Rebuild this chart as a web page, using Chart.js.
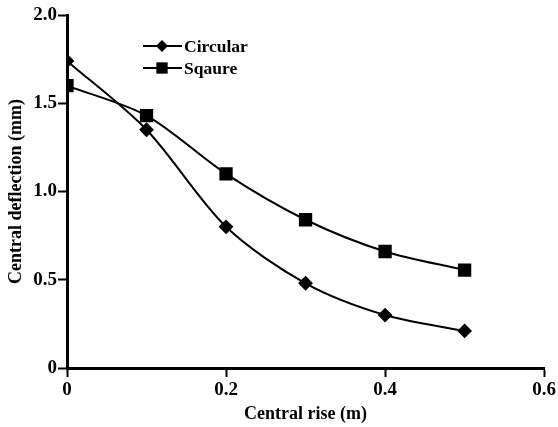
<!DOCTYPE html>
<html lang="en">
<head>
  <meta charset="utf-8" />
  <title>Central deflection vs central rise</title>
  <script src="https://cdn.jsdelivr.net/npm/chart.js"></script>
  <style>
    * { box-sizing: border-box; margin: 0; padding: 0; }
    body { background: #fff; }
    .chart-box { position: relative; width: 558px; height: 427px; }
  </style>
</head>
<body>
  <div class="chart-box"><canvas id="deflectionChart"></canvas></div>

  <script>
    const rise = [0, 0.1, 0.2, 0.3, 0.4, 0.5];
    const circular = [1.74, 1.35, 0.80, 0.48, 0.30, 0.21];
    const square = [1.60, 1.43, 1.10, 0.84, 0.66, 0.555];
    const seriesNames = ['Circular', 'Sqaure'];

    const serif = '"Liberation Serif", "Times New Roman", serif';

    // legend drawn as line + marker, like the original figure
    const lineLegend = {
      id: 'lineLegend',
      afterDraw(chart) {
        const ctx = chart.ctx;
        ctx.save();
        chart.data.datasets.forEach((ds, i) => {
          const y = 46 + i * 22;
          ctx.strokeStyle = '#000';
          ctx.lineWidth = 2;
          ctx.beginPath();
          ctx.moveTo(143, y);
          ctx.lineTo(182, y);
          ctx.stroke();
          ctx.fillStyle = '#000';
          Chart.helpers.drawPoint(ctx, { pointStyle: ds.pointStyle, radius: ds.pointRadius, borderWidth: 0 }, 162, y);
          ctx.font = 'bold 17.5px ' + serif;
          ctx.textBaseline = 'middle';
          ctx.textAlign = 'left';
          ctx.fillText(ds.label, 184, y + 1);
        });
        ctx.restore();
      }
    };

    const tickLabel = v => v === 0 ? '0' : v.toFixed(1);

    new Chart('deflectionChart', {
      type: 'line',
      data: {
        datasets: [
          {
            label: seriesNames[0],
            data: rise.map((x, i) => ({ x, y: circular[i] })),
            borderColor: '#000',
            backgroundColor: '#000',
            borderWidth: 2,
            pointStyle: 'rectRot',
            pointRadius: 6,
            tension: 0.3
          },
          {
            label: seriesNames[1],
            data: rise.map((x, i) => ({ x, y: square[i] })),
            borderColor: '#000',
            backgroundColor: '#000',
            borderWidth: 2,
            pointStyle: 'rect',
            pointRadius: 8,
            tension: 0.3
          }
        ]
      },
      options: {
        responsive: true,
        maintainAspectRatio: false,
        animation: false,
        layout: { padding: { left: 0, top: 15, right: 13, bottom: 0 } },
        plugins: { legend: { display: false }, tooltip: { enabled: false } },
        scales: {
          x: {
            type: 'linear',
            min: 0,
            max: 0.6,
            afterFit: s => { s.height = 59; },
            ticks: { stepSize: 0.2, callback: tickLabel, color: '#000', padding: 2, font: { family: serif, size: 19, weight: 'bold' } },
            grid: { drawOnChartArea: false, tickLength: 9, tickWidth: 2, color: '#000' },
            border: { color: '#000', width: 3 },
            title: { display: true, text: 'Central rise (m)', color: '#000', padding: { top: 4, bottom: 2 }, font: { family: serif, size: 18, weight: 'bold' } }
          },
          y: {
            min: 0,
            max: 2,
            afterFit: s => { s.width = 67; },
            ticks: { stepSize: 0.5, callback: tickLabel, color: '#000', padding: 1, font: { family: serif, size: 19, weight: 'bold' } },
            grid: { drawOnChartArea: false, tickLength: 9, tickWidth: 2, color: '#000' },
            border: { color: '#000', width: 3 },
            title: { display: true, text: 'Central deflection (mm)', color: '#000', padding: { top: 6, bottom: 0 }, font: { family: serif, size: 18, weight: 'bold' } }
          }
        }
      },
      plugins: [lineLegend]
    });
  </script>
</body>
</html>
